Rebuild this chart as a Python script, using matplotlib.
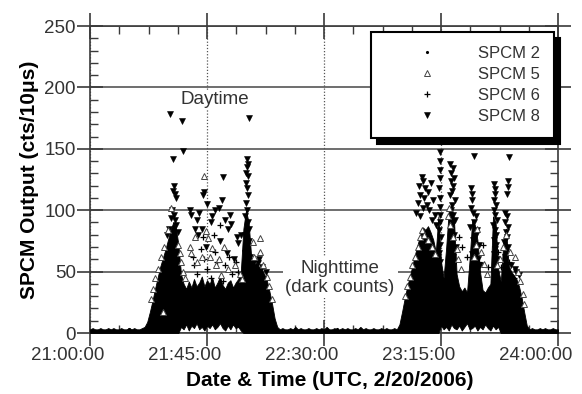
import matplotlib
matplotlib.use("Agg")
import matplotlib.pyplot as plt
import matplotlib.transforms as mtransforms
from matplotlib.ticker import MultipleLocator, FixedLocator

plt.rcParams['font.family'] = ['Liberation Sans', 'DejaVu Sans']

# ---------------- data (minutes after 21:00:00 UTC, counts per 10 us) ----------------
tick_minutes = [0, 45, 90, 135, 180]
tick_labels = ["21:00:00", "21:45:00", "22:30:00", "23:15:00", "24:00:00"]
series_names = ["SPCM 2", "SPCM 5", "SPCM 6", "SPCM 8"]

# envelope of the dense cloud of all detectors (read per minute)
env_minutes = [
    0, 1, 2, 3, 4, 5, 6, 7, 8, 9, 10, 11, 12, 13, 14, 15, 16, 17, 18, 19, 20,
    21, 22, 23, 24, 25, 26, 27, 28, 29, 30, 31, 32, 33, 34, 35, 36, 37, 38, 39, 40,
    41, 42, 43, 44, 45, 46, 47, 48, 49, 50, 51, 52, 53, 54, 55, 56, 57, 58, 59, 60,
    61, 62, 63, 64, 65, 66, 67, 68, 69, 70, 71, 72, 73, 74, 75, 76, 77, 78, 79, 80,
    81, 82, 83, 84, 85, 86, 87, 88, 89, 90, 91, 92, 93, 94, 95, 96, 97, 98, 99, 100,
    101, 102, 103, 104, 105, 106, 107, 108, 109, 110, 111, 112, 113, 114, 115, 116, 117, 118, 119, 120,
    121, 122, 123, 124, 125, 126, 127, 128, 129, 130, 131, 132, 133, 134, 135, 136, 137, 138, 139, 140,
    141, 142, 143, 144, 145, 146, 147, 148, 149, 150, 151, 152, 153, 154, 155, 156, 157, 158, 159, 160,
    161, 162, 163, 164, 165, 166, 167, 168, 169, 170, 171, 172, 173, 174, 175, 176, 177, 178, 179, 180]
env_high = (
    [3, 4, 3, 3, 4, 3, 3, 4, 3, 4, 3, 3, 4, 3, 3, 4, 3, 4, 3, 3, 4]
    + [5, 9, 17, 26, 36, 45, 54, 61, 68, 76, 84, 90, 86, 72]
    + [48, 40, 36, 42, 37, 44, 38, 41, 46, 38, 43, 40, 45, 37, 41, 46, 39, 36, 41, 43, 37, 41, 44, 50]
    + [85, 100, 90, 62, 56, 57, 54, 52, 48, 43, 34, 24, 12, 5]
    + [3, 4, 3, 3, 4, 3, 5, 3, 4, 3, 3, 4, 3, 3, 4, 3, 4, 3, 5, 3, 3, 4, 3, 3, 4, 3, 4, 3, 3, 4,
       3, 5, 3, 4, 3, 3, 4, 3, 3, 4, 3, 4, 3, 3, 4, 3]
    + [7, 17, 28, 38, 46, 55, 64, 72, 80, 86, 84, 87, 82, 76, 66]
    + [95, 58, 45, 70, 100, 105, 92, 48, 38, 34, 37, 33, 60, 92, 88, 76, 50, 35, 33, 37,
       40, 95, 90, 52, 42, 75, 85, 55, 50, 47, 44, 38, 29, 17, 6]
    + [3, 4, 3, 3, 4, 3, 4, 3, 3, 4, 3, 3]
)
env_low = (
    [0] * 35
    + [5, 3, 7, 2, 6, 4, 8, 3, 5, 2, 6, 4, 7, 3, 5, 8, 4, 2, 6, 3, 7, 4, 5, 2]
    + [0] * 76
    + [6, 3, 5, 2, 7, 4, 3, 6, 2, 5, 8, 3, 4, 6, 2, 5, 3, 7, 4, 2, 6, 3, 5, 0]
    + [0] * 22
)

spcm2_points = [(5, 2), (15, 3), (80, 2), (95, 3), (105, 2), (175, 2), (45, 30), (50, 25),
                (140, 28), (150, 30), (60, 40), (130, 50), (38, 20), (146, 22)]

spcm5_points = [
    (43.8, 128), (31.2, 102), (30, 84), (28.5, 70), (27.2, 62), (26, 52), (25, 45), (24.2, 36),
    (23.5, 28), (33.8, 72), (34.5, 65), (35, 58), (35.8, 50), (36.5, 45), (38.5, 70), (39, 65),
    (40.2, 78), (41, 58), (43, 62), (44.5, 83), (45.5, 77), (46, 62), (47, 69), (48.5, 55),
    (49.5, 60), (50.5, 47), (51.5, 70), (53, 52), (55.8, 55), (57.5, 48), (58.5, 44),
    (62.5, 74), (63.2, 62), (65.4, 77), (65.4, 66), (66.5, 55), (68, 46), (69, 38), (70, 28), (28, 17),
    (121, 30), (122, 38), (123.2, 46), (124, 55), (125, 62), (126, 70), (126.8, 78), (127.5, 84),
    (128.5, 80), (130, 76), (131.5, 70), (132.5, 64), (137.5, 95), (138, 102), (138.5, 88),
    (139.8, 78), (141, 68), (141.5, 60), (142.5, 52), (147.5, 62), (148.5, 72), (149, 85),
    (150.5, 66), (151.5, 56), (152.5, 48), (156.5, 55), (157.5, 60), (158.8, 70), (160, 80),
    (161.5, 66), (163.5, 62), (164.5, 50), (165.5, 42), (166.5, 32), (167, 24)]

spcm6_points = [
    (40, 55), (41.2, 48), (42.5, 68), (44, 60), (45, 52), (46.5, 45), (48, 66), (49, 58),
    (51, 42), (52, 55), (53.5, 62), (54.5, 48), (56, 58), (57, 50), (39.5, 62), (43.5, 78),
    (47.5, 80), (50, 88), (36.5, 32),
    (142, 78), (143, 70), (145, 62), (148, 52), (149.5, 58), (151, 72), (153, 54), (157, 66),
    (158, 54), (161, 58), (163, 45)]

spcm8_points = [
    (30.8, 178), (35.3, 173), (61.3, 175), (32, 142), (35.6, 148), (32.3, 120), (32.5, 113),
    (31.8, 116), (33, 110), (44, 115), (43.5, 112), (45, 105), (51, 127), (50.8, 108), (54, 96),
    (54.4, 89), (56.4, 78), (48, 100), (47, 95), (46.5, 90), (49.5, 102), (52, 92), (53, 85),
    (57, 73), (58, 80), (42, 98), (41, 92), (40.5, 85), (39, 96), (38.5, 100), (41.5, 80),
    (43, 85), (44.5, 70), (50, 75), (52.5, 65), (55.5, 60),
    (60.2, 142), (60.4, 135), (60.6, 128), (60.1, 122), (60.5, 118), (60.8, 112), (60.0, 106),
    (60.3, 100), (59.8, 95), (60.7, 90), (61.0, 85), (59.7, 80), (61.2, 75), (60.4, 70),
    (59.5, 65), (61.4, 62), (60.0, 130), (60.9, 138),
    (31.5, 100), (32.2, 96), (32.8, 92), (31, 94), (33.2, 88), (30.5, 85), (29.8, 80), (33.8, 82),
    (63, 58), (64.5, 57), (66, 54), (67.5, 50), (65, 60),
    (127.5, 127), (128, 124), (126.5, 120), (129, 118), (127, 112), (128.5, 110), (126, 106),
    (129.5, 104), (130, 115), (131, 122), (130.5, 100), (125.5, 98), (126.8, 95), (131.5, 92),
    (132, 108), (128.2, 102), (132.5, 96), (133, 88),
    (134.6, 147), (134.5, 140), (134.7, 133), (134.6, 126), (134.4, 118), (134.8, 110),
    (134.6, 103), (134.5, 96), (134.7, 90), (134.3, 84), (134.9, 78), (134.6, 72), (134.4, 65),
    (134.7, 58),
    (138.6, 138), (139.5, 134), (139, 130), (140, 126), (138.8, 124), (139.8, 120), (139.2, 116),
    (138.5, 112), (140.2, 108), (139.4, 104), (138.9, 100), (139.7, 96), (140.4, 92), (139.1, 88),
    (138.7, 84), (139.9, 80), (139.3, 75), (140.6, 70), (138.4, 66), (139.6, 62), (140.2, 58),
    (147.7, 144), (146.5, 118), (146.8, 113), (147, 108), (146.5, 102), (147.4, 98), (148.3, 95),
    (147.8, 90), (146.2, 86), (149, 84), (148.5, 80), (147.2, 76), (149.5, 72), (148, 68),
    (146.8, 64), (149.2, 60), (150, 55),
    (155.3, 121), (155.6, 117), (155.9, 113), (155.2, 108), (156.2, 104), (155.5, 100),
    (155.8, 96), (156.4, 92), (155.1, 88), (155.7, 84), (156, 80), (155.4, 76), (156.3, 72),
    (155.6, 68), (155.2, 64), (156.5, 60),
    (161, 143), (160.8, 124), (160.7, 119), (160.4, 113), (159.8, 98), (160.2, 95), (159.5, 90),
    (160.6, 86), (159.9, 82), (160.3, 78), (159.4, 74), (160.8, 70), (160, 66), (159.6, 62),
    (162, 55), (163.5, 52), (165, 47), (164, 50)]

# ---------------- figure ----------------
fig = plt.figure(figsize=(5.82, 3.94), dpi=100)
ax = fig.add_axes([90 / 582, 1 - 333 / 394, 468 / 582, 307 / 394])
ax.set_xlim(0, 180)
ax.set_ylim(0, 250)
ax.set_axisbelow(True)

axis_col = '#3a3a3a'
for s in ax.spines.values():
    s.set_color(axis_col)
    s.set_linewidth(1.2)

ax.xaxis.set_major_locator(FixedLocator(tick_minutes))
ax.set_xticklabels(tick_labels)
ax.xaxis.set_minor_locator(MultipleLocator(11.25))
ax.yaxis.set_major_locator(MultipleLocator(50))
ax.yaxis.set_minor_locator(MultipleLocator(10))

ax.tick_params(which='major', direction='inout', length=18.5, width=1.2, color=axis_col,
               top=True, right=True, labelsize=13.5, labelcolor='#333333', pad=1)
ax.tick_params(which='minor', direction='in', length=5.5, width=1.0, color=axis_col,
               top=True, right=True)

# x tick labels sit left of their ticks in the reference
label_shift = mtransforms.ScaledTranslation(-0.22, 0, fig.dpi_scale_trans)
for lab in ax.get_xticklabels():
    lab.set_transform(lab.get_transform() + label_shift)

ax.grid(axis='y', which='major', color='#555555', lw=1.2, ls='-')
ax.grid(axis='x', which='major', color='#555555', lw=0.9, ls=(0, (1, 1.5)))

# dense cloud
ax.fill_between(env_minutes, env_low, env_high, color='black', lw=0.6, zorder=3)

def unzip(points):
    return [p[0] for p in points], [p[1] for p in points]

t2, v2 = unzip(spcm2_points)
t5, v5 = unzip(spcm5_points)
t6, v6 = unzip(spcm6_points)
t8, v8 = unzip(spcm8_points)

h2, = ax.plot(t2, v2, ls='none', marker='.', ms=2.5, color='black', zorder=4)
h5, = ax.plot(t5, v5, ls='none', marker='^', ms=3.8, mfc='white', mec='#444444', mew=0.7, zorder=5)
h6, = ax.plot(t6, v6, ls='none', marker='+', ms=4.5, mew=0.9, color='black', zorder=4)
h8, = ax.plot(t8, v8, ls='none', marker='v', ms=3.8, mfc='black', mec='black', mew=0.4, zorder=4)

ax.text(48.1, 190, 'Daytime', ha='center', va='center', fontsize=13.5, color='#333333',
        bbox=dict(fc='white', ec='none', pad=1), zorder=2)
ax.text(96.2, 45, 'Nighttime\n(dark counts)', ha='center', va='center', fontsize=13.5,
        color='#333333', linespacing=1.12, bbox=dict(fc='white', ec='none', pad=2), zorder=2)

leg = ax.legend(handles=[h2, h5, h6, h8], labels=series_names, loc='upper right',
                bbox_to_anchor=((554 - 90) / 468, (333 - 32) / 307), fontsize=12,
                frameon=True, fancybox=False, edgecolor='black', framealpha=1,
                handlelength=4.95, handletextpad=0.6, borderpad=0.85, labelspacing=0.36,
                borderaxespad=0, numpoints=1,
                shadow={'ox': 4, 'oy': -4, 'facecolor': 'black', 'edgecolor': 'black', 'alpha': 1})
leg.get_frame().set_linewidth(1.5)
for txt in leg.get_texts():
    txt.set_color('#333333')

ax.set_ylabel('SPCM Output (cts/10\u03bcs)', fontsize=15, fontweight='bold')
ax.set_xlabel('Date & Time (UTC, 2/20/2006)', fontsize=15, fontweight='bold')
ax.yaxis.set_label_coords(-0.109, 0.5)
ax.xaxis.set_label_coords(0.513, -0.125)

fig.savefig('out.png', dpi=100)
